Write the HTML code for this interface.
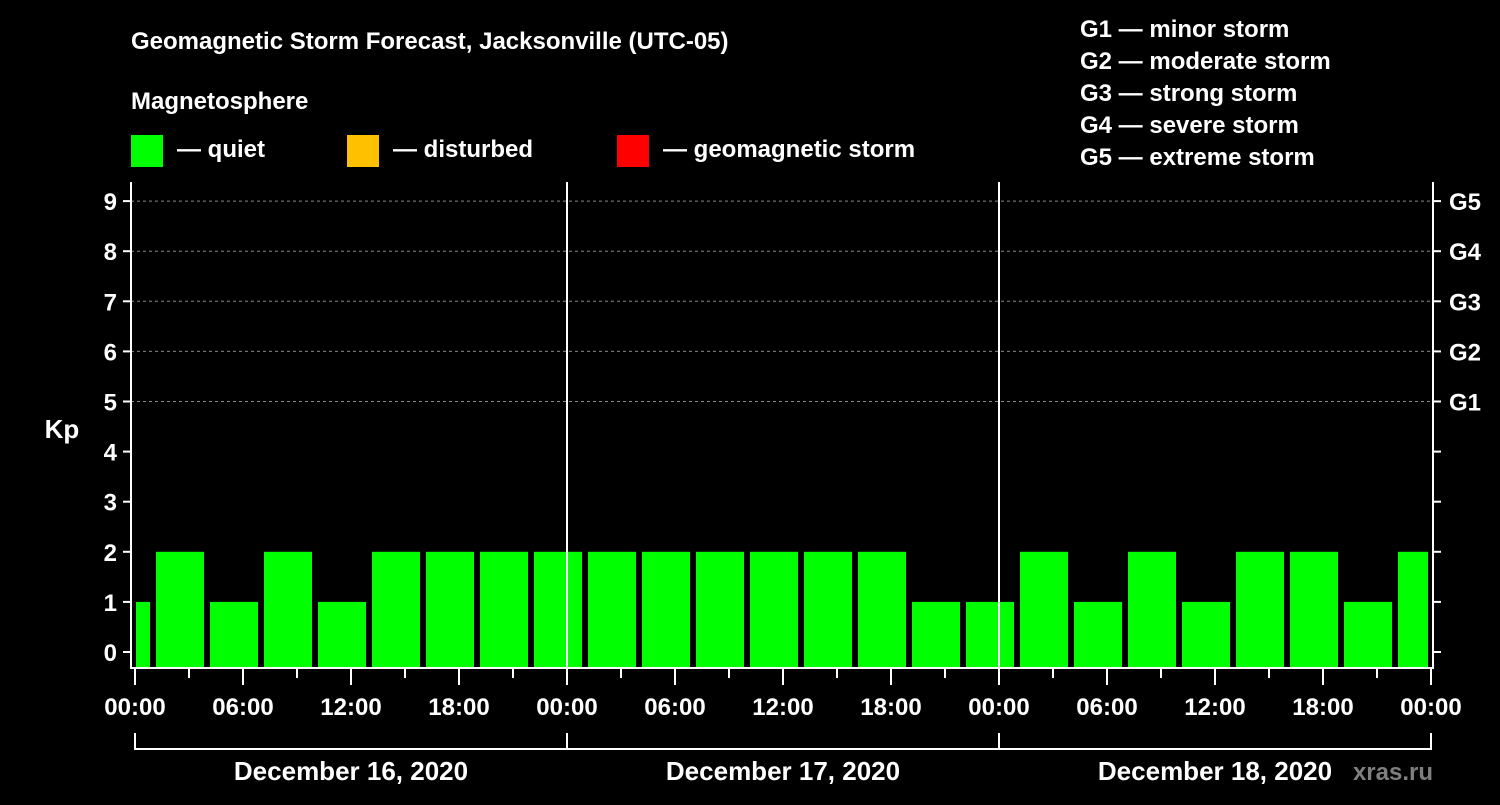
<!DOCTYPE html>
<html><head><meta charset="utf-8"><style>
body{margin:0;background:#000;}
svg text{font-family:"Liberation Sans",Arial,sans-serif;font-weight:bold;fill:#fff;}
</style></head><body>
<svg id="c" width="1500" height="800" viewBox="0 0 1500 800">
<rect width="1500" height="800" fill="#000"/>
<text x="131" y="49" font-size="24">Geomagnetic Storm Forecast, Jacksonville (UTC-05)</text>
<text x="131" y="109" font-size="24">Magnetosphere</text>
<g><rect x="131" y="135" width="32" height="32" fill="#00ff00"/><text x="177" y="157" font-size="24">— quiet</text></g>
<g><rect x="347" y="135" width="32" height="32" fill="#ffc000"/><text x="393" y="157" font-size="24">— disturbed</text></g>
<g><rect x="617" y="135" width="32" height="32" fill="#ff0000"/><text x="663" y="157" font-size="24">— geomagnetic storm</text></g>
<g font-size="24">
<text x="1080" y="37">G1 — minor storm</text>
<text x="1080" y="69">G2 — moderate storm</text>
<text x="1080" y="101">G3 — strong storm</text>
<text x="1080" y="133">G4 — severe storm</text>
<text x="1080" y="165">G5 — extreme storm</text>
</g>
<text x="62" y="438" font-size="26" text-anchor="middle">Kp</text>
<text x="1433" y="780" font-size="24" fill="#888" style="fill:#7f7f7f" text-anchor="end">xras.ru</text>
<g id="plot"></g>
</svg>
<script>
const kpValues=[1,2,1,2,1,2,2,2,2,2,2,2,2,2,2,1,1,2,1,2,1,2,2,1,2];
const yTicks=[0,1,2,3,4,5,6,7,8,9];
const gLabels=["G1","G2","G3","G4","G5"];
const gLevels=[5,6,7,8,9];
const timeLabels=["00:00","06:00","12:00","18:00","00:00","06:00","12:00","18:00","00:00","06:00","12:00","18:00","00:00"];
const dayLabels=["December 16, 2020","December 17, 2020","December 18, 2020"];
const firstBarStartHour=-2;
const NS="http://www.w3.org/2000/svg";
const g=document.getElementById('plot');
const X0=135,PX_H=18,TOTAL_H=72,L=131,R=1433,TOP=182,BOT=668;
const x=h=>X0+h*PX_H;
const y=v=>652-50.1*v;
function mk(t,a,p){const e=document.createElementNS(NS,t);for(const k in a)e.setAttribute(k,a[k]);(p||g).appendChild(e);return e;}
// grid
gLevels.forEach((v,i)=>{const e=mk('line',{x1:L,x2:R,y1:y(v),y2:y(v),stroke:'#888','stroke-dasharray':'3,3','stroke-width':1});


const t=mk('text',{x:1449,y:y(v)+9,'font-size':24});t.textContent=gLabels[i];

});
// bars
kpValues.forEach((v,i)=>{let h0=firstBarStartHour+3*i,h1=h0+3;
let a=Math.max(x(h0)+3,x(0)+1),b=Math.min(x(h1)-3,x(TOTAL_H)-3);
const col=v>=5?'#ff0000':(v>=4?'#ffc000':'#00ff00');
const r=mk('rect',{x:a,y:y(v),width:b-a,height:BOT-y(v),fill:col});

});
// day separators
[24,48].forEach(h=>{const e=mk('line',{x1:x(h),x2:x(h),y1:TOP,y2:BOT,stroke:'#fff','stroke-width':2});

});
// axes
const ax=mk('path',{d:`M${L},${TOP}V${BOT}H${R}V${TOP}`,stroke:'#fff','stroke-width':2,fill:'none'});


yTicks.forEach(v=>{mk('line',{x1:L-8,x2:L,y1:y(v),y2:y(v),stroke:'#fff','stroke-width':2});
mk('line',{x1:R,x2:R+8,y1:y(v),y2:y(v),stroke:'#fff','stroke-width':2});
const t=mk('text',{x:117,y:y(v)+9,'font-size':24,'text-anchor':'end'});t.textContent=v;

});
for(let h=0;h<=TOTAL_H;h+=3){const major=h%6===0;
mk('line',{x1:x(h),x2:x(h),y1:BOT,y2:BOT+(major?17:10),stroke:'#fff','stroke-width':2});}
timeLabels.forEach((s,i)=>{const t=mk('text',{x:x(i*6),y:715,'font-size':24,'text-anchor':'middle'});t.textContent=s;

});
const br=mk('path',{d:`M${x(0)},733V749H${x(72)}V733M${x(24)},733V749M${x(48)},733V749`,stroke:'#fff','stroke-width':2,fill:'none'});


dayLabels.forEach((s,i)=>{const t=mk('text',{x:x(i*24+12),y:780,'font-size':26,'text-anchor':'middle'});t.textContent=s;

});
</script>
</body></html>
